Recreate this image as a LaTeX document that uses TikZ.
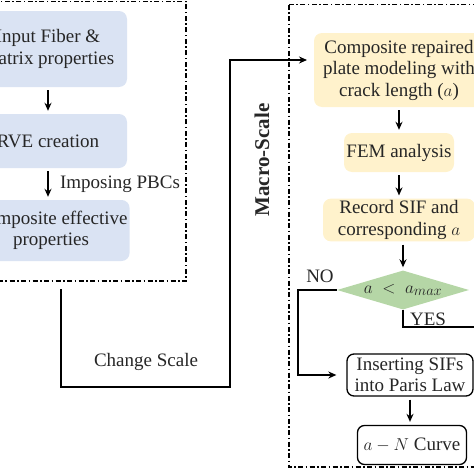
\documentclass[tikz,border=0pt]{standalone}
\usepackage{fontspec}
\setmainfont{Liberation Serif}
\usepackage{xcolor}
\usetikzlibrary{shapes,arrows,positioning,arrows.meta}

\definecolor{microblue}{RGB}{218,227,243}
\definecolor{macroyellow}{RGB}{255,242,204}
\definecolor{checkgreen}{RGB}{181,214,166}

\begin{document}
\begin{tikzpicture}[x=1pt, y=1pt, node distance=90pt, >={Stealth[length=8pt, width=7pt]},
    every node/.style={font=\fontsize{19}{21.5}\selectfont, text=black!85},
    micro/.style={rectangle, rounded corners=8pt, fill=microblue, align=center, inner sep=2pt},
    macro/.style={rectangle, rounded corners=8pt, fill=macroyellow, align=center, inner sep=2pt},
    result/.style={draw, rectangle, rounded corners=7pt, line width=1.3pt, align=center, inner sep=2pt},
    check/.style={diamond, aspect=3.4, fill=checkgreen, inner sep=0pt},
    scalebox/.style={line width=1.3pt, dash pattern=on 5pt off 2.5pt on 1.5pt off 2.5pt},
    link/.style={line width=1.6pt, shorten >=3pt, shorten <=3pt}]

    \useasboundingbox (0,0) rectangle (474,-474);
    \clip (0,0) rectangle (474,-474);

    % micro-scale frame and steps
    \draw [scalebox] (-10,-1.5) rectangle (186,-281);
    \node (fiber) [micro, minimum width=158pt, minimum height=76pt] at (48,-49) {Input Fiber \&\\ Matrix properties};
    \node (rve) [micro, below of=fiber, node distance=92pt, minimum width=158pt, minimum height=54pt] {RVE creation};
    \node (eff) [micro, below of=rve, node distance=89.5pt, xshift=3pt, minimum width=156pt, minimum height=61pt] {Composite effective\\ properties};

    \draw [->, link] (fiber) -- (rve);
    \draw [->, link] (rve.south) -- (rve.south |- eff.north) node[midway, right, xshift=8pt] (pbc) {Imposing PBCs};

    % macro-scale frame and steps
    \draw [scalebox] (289,-4.5) rectangle (490,-467);
    \node (macrolbl) [rotate=90, font=\fontsize{21}{24}\selectfont\bfseries] at (262,-160) {Macro-Scale};

    \node (comp) [macro, minimum width=170pt, minimum height=74pt] at (399,-70) {Composite repaired\\ plate modeling with\\ crack length ($a$)};
    \node (fem) [macro, below of=comp, node distance=82.5pt, minimum width=110pt, minimum height=39pt] {FEM analysis};
    \node (rec) [macro, below of=fem, node distance=67.5pt, minimum width=152pt, minimum height=40pt] {Record SIF and\\ corresponding $a$};
    \node (check) [check, below of=rec, node distance=70pt, xshift=4pt, minimum width=132pt, minimum height=39pt] {$a\;<\;a_{max}$};
    \node (paris) [result, below of=check, node distance=85pt, xshift=7pt, minimum width=126pt, minimum height=42pt] {Inserting SIFs\\ into Paris Law};
    \node (curve) [result, below of=paris, node distance=70pt, xshift=2pt, minimum width=109pt, minimum height=39pt] {$a-N$ Curve};

    \draw [->, link] (comp) -- (fem);
    \draw [->, link] (fem) -- (rec);
    \draw [->, link] (rec.south -| check.north) -- (check.north);
    \draw [->, link] (paris.south) -- (paris.south |- curve.north);

    \draw [->, line width=1.6pt, shorten >=10pt] (check.west) -- ++(-39,0) |- (paris.west);
    \node (no) at (320,-276) {NO};
    \coordinate (yesout) at (480,-327);
    \draw [line width=1.6pt] (check.south) |- (yesout);
    \node (yes) at (428,-319) {YES};

    % change of scale
    \coordinate (microout) at (61,-289);
    \coordinate (macroin) at (307,-60);
    \draw [->, line width=1.6pt] (microout) |- (230,-387) -- (230,-60) -- (macroin);
    \node (changelbl) at (146,-362) {Change Scale};
\end{tikzpicture}
\end{document}
